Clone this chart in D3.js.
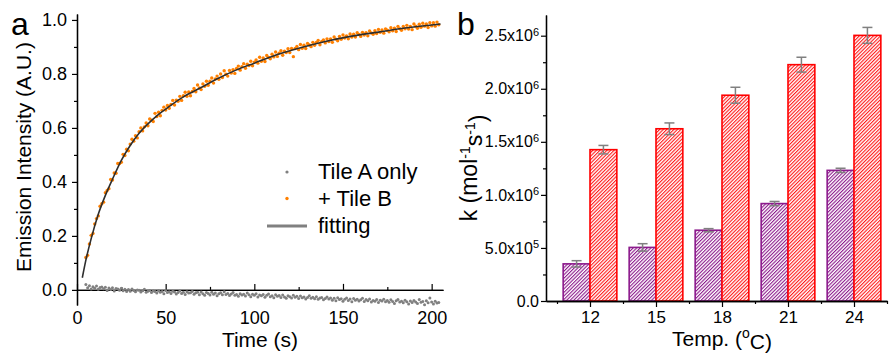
<!DOCTYPE html>
<html>
<head>
<meta charset="utf-8">
<script src="https://cdn.jsdelivr.net/npm/d3@7"></script>
<style>
  body { margin: 0; background: #fff; }
  text { font-family: Arial, "Liberation Sans", sans-serif; fill: #000; }
</style>
</head>
<body>
<svg id="chart" width="890" height="353"></svg>
<script>
// ---- panel a data ----
// sampling grid of the kinetics traces (s)
const tStart = 5, tStep = 1;
// "+ Tile B" emission, in thousandths of A.U.
const tileBmilli = [
  120,128,170,202,209,244,264,274,310,319, 325,360,368,375,409,407,433,432,468,468,
  473,502,498,521,515,540,558,551,571,563, 586,600,589,604,618,608,633,629,624,654,
  642,658,645,665,677,666,683,673,687,702, 685,703,699,717,702,719,732,717,733,719,
  735,746,734,759,748,742,763,754,773,758, 773,785,766,781,792,780,800,787,812,799,
  792,813,803,816,802,820,829,814,827,838, 821,836,831,847,830,843,852,840,862,847,
  859,846,868,861,856,873,863,881,865,877, 886,869,884,879,893,879,894,864,894,902,
  890,909,895,906,894,913,907,901,917,906, 917,924,908,920,926,915,930,920,930,917,
  937,929,923,939,928,944,933,941,930,948, 937,947,937,953,946,939,954,944,953,941,
  959,952,947,960,950,965,954,963,951,967, 962,956,971,960,969,957,976,968,962,976,
  967,980,966,976,964,985,977,969,984,973, 988,977,985,972,990,978,990,977,992,982
];
// "Tile A only" emission, in thousandths of A.U.
const tileAmilli = [
  20,8,15,3,12,6,14,2,9,11,  4,10,-2,7,1,8,-4,5,3,-1,
  6,-3,2,-6,1,-5,3,-2,-7,0,  -1,-8,-3,2,-9,-5,-2,-10,-4,-6,
  -12,-3,-9,-6,-14,-2,-10,-7,-13,-5,  -8,-15,-10,-4,-13,-9,-17,-7,-12,-11,
  -6,-16,-11,-9,-18,-8,-14,-20,-10,-13,  -19,-9,-16,-12,-22,-14,-11,-18,-7,-17,
  -13,-21,-15,-10,-20,-17,-24,-14,-19,-16,  -23,-12,-18,-25,-16,-20,-14,-26,-19,-22,
  -17,-27,-20,-15,-25,-22,-29,-18,-24,-21,  -28,-19,-26,-31,-22,-25,-30,-20,-27,-24,
  -32,-23,-29,-26,-34,-28,-22,-31,-27,-33,  -25,-35,-30,-28,-37,-32,-26,-34,-30,-38,
  -31,-40,-29,-36,-33,-42,-35,-30,-39,-34,  -44,-32,-38,-35,-41,-37,-31,-43,-36,-40,
  -34,-45,-39,-42,-36,-47,-38,-41,-35,-44,  -39,-46,-37,-43,-50,-40,-36,-45,-42,-48,
  -38,-44,-52,-41,-47,-39,-45,-50,-36,-46,  -43,-55,-40,-48,-30,-45,-52,-42,-49,-47
];
// fitting curve
const fitT = [3, 5, 8, 12, 16, 20, 25, 30, 35, 40, 45, 50, 60, 70, 80, 90, 100, 110, 125, 140, 155, 170, 185, 205];
const fitY = [0.045, 0.11, 0.19, 0.28, 0.35, 0.41, 0.48, 0.535, 0.58, 0.615, 0.645, 0.67, 0.715, 0.75, 0.785, 0.815, 0.84, 0.865, 0.895, 0.92, 0.94, 0.955, 0.97, 0.985];
const timeTicks = [0, 50, 100, 150, 200];
const timeMinor = [25, 75, 125, 175];
const intensityTicks = [0, 0.2, 0.4, 0.6, 0.8, 1.0];
const intensityMinor = [0.1, 0.3, 0.5, 0.7, 0.9];
const legendLabels = ["Tile A only", "+ Tile B", "fitting"];

// ---- panel b data ----
const temps = [12, 15, 18, 21, 24];
const tempMinor = [10.5, 13.5, 16.5, 19.5, 22.5, 25.5];
const kTileA = [3.5e5, 5.05e5, 6.67e5, 9.18e5, 1.231e6];
const kTileAErr = [3.0e4, 3.5e4, 1.5e4, 2.0e4, 2.0e4];
const kTileB = [1.426e6, 1.623e6, 1.939e6, 2.227e6, 2.503e6];
const kTileBErr = [4.0e4, 5.5e4, 7.5e4, 7.0e4, 7.5e4];
const kTicks = [0, 5e5, 1e6, 1.5e6, 2e6, 2.5e6];
const kMinor = [2.5e5, 7.5e5, 1.25e6, 1.75e6, 2.25e6];
const kTickLabels = [["0.0", ""], ["5.0x10", "5"], ["1.0x10", "6"], ["1.5x10", "6"], ["2.0x10", "6"], ["2.5x10", "6"]];

const FONT = 'Arial, "Liberation Sans", sans-serif';
const svg = d3.select("#chart");

function styleAxis(g, size) {
  g.attr("font-family", FONT).attr("font-size", size);
  g.selectAll("line").attr("stroke", "#000").attr("stroke-width", 1.2);
  g.selectAll("path.domain").attr("stroke", "#000").attr("stroke-width", 1.3);
  g.selectAll("text").attr("fill", "#000");
}

// =================== panel a ===================
const xa = d3.scaleLinear().domain([0, 206.4]).range([77, 443]);
const ya = d3.scaleLinear().domain([-0.056, 1.022]).range([305, 14]);
const times = d3.range(tileBmilli.length).map(i => tStart + i * tStep);

const ga = svg.append("g");

ga.append("g").attr("transform", `translate(77,0)`)
  .call(d3.axisLeft(ya).tickValues(intensityMinor).tickSize(3).tickSizeOuter(0).tickFormat(""))
  .call(g => styleAxis(g, 18));
ga.append("g").attr("transform", `translate(77,0)`)
  .call(d3.axisLeft(ya).tickValues(intensityTicks).tickSize(5).tickSizeOuter(0).tickPadding(5).tickFormat(d3.format(".1f")))
  .call(g => styleAxis(g, 18));

ga.append("g").attr("transform", `translate(0,${ya(0)})`)
  .call(d3.axisBottom(xa).tickValues(timeMinor).tickSize(-3).tickSizeOuter(0).tickFormat(""))
  .call(g => styleAxis(g, 18));
ga.append("g").attr("transform", `translate(0,${ya(0)})`)
  .call(d3.axisBottom(xa).tickValues(timeTicks).tickSize(-6).tickSizeOuter(0).tickPadding(21))
  .call(g => styleAxis(g, 18));

ga.append("g").selectAll("circle").data(tileAmilli).join("circle")
  .attr("cx", (d, i) => xa(times[i])).attr("cy", d => ya(d / 1000))
  .attr("r", 1.5).attr("fill", "#808080");
ga.append("g").selectAll("circle").data(tileBmilli).join("circle")
  .attr("cx", (d, i) => xa(times[i])).attr("cy", d => ya(d / 1000))
  .attr("r", 1.7).attr("fill", "#ff8000");

ga.append("path")
  .datum(fitT.map((t, i) => [t, fitY[i]]))
  .attr("d", d3.line().x(d => xa(d[0])).y(d => ya(d[1])).curve(d3.curveMonotoneX))
  .attr("fill", "none").attr("stroke", "#2e2e2e").attr("stroke-width", 1.6);

// legend
const lg = ga.append("g").attr("font-family", FONT).attr("font-size", 22);
lg.append("circle").attr("cx", 287).attr("cy", 172).attr("r", 1.6).attr("fill", "#808080");
lg.append("circle").attr("cx", 287).attr("cy", 198.5).attr("r", 1.7).attr("fill", "#ff8000");
lg.append("line").attr("x1", 267).attr("x2", 307).attr("y1", 226).attr("y2", 226)
  .attr("stroke", "#808080").attr("stroke-width", 3);
legendLabels.forEach((s, i) => {
  lg.append("text").attr("x", 318).attr("y", 179 + i * 27).text(s);
});

ga.append("text").attr("transform", "translate(31,157) rotate(-90)")
  .attr("text-anchor", "middle").attr("font-size", 21).text("Emission Intensity (A.U.)");
ga.append("text").attr("x", 260).attr("y", 346.5)
  .attr("text-anchor", "middle").attr("font-size", 21).text("Time (s)");
ga.append("text").attr("x", 11).attr("y", 35).attr("font-size", 32).text("a");

// =================== panel b ===================
const xb = d3.scaleLinear().domain([10, 25.5]).range([546, 887]);
const yb = d3.scaleLinear().domain([0, 2.695e6]).range([301, 15]);
const barW = 1.22;

const defs = svg.append("defs");
function hatch(id, color, bg) {
  const p = defs.append("pattern").attr("id", id)
    .attr("patternUnits", "userSpaceOnUse").attr("width", 2.5).attr("height", 10)
    .attr("patternTransform", "rotate(45)");
  p.append("rect").attr("width", 2.5).attr("height", 10).attr("fill", bg);
  p.append("rect").attr("width", 1.1).attr("height", 10).attr("fill", color);
}
hatch("hatchPurple", "#8c1a8c", "#fff");
hatch("hatchRed", "#ff1a1a", "#fff");

const gb = svg.append("g");

gb.append("g").attr("transform", `translate(546,0)`)
  .call(d3.axisLeft(yb).tickValues(kMinor).tickSize(3).tickSizeOuter(0).tickFormat(""))
  .call(g => styleAxis(g, 16));
gb.append("g").attr("transform", `translate(546,0)`)
  .call(d3.axisLeft(yb).tickValues(kTicks).tickSize(5).tickSizeOuter(0).tickPadding(2))
  .call(g => styleAxis(g, 16))
  .call(g => g.selectAll(".tick text").each(function (d, i) {
    const t = d3.select(this).text(null);
    t.append("tspan").text(kTickLabels[i][0]);
    if (kTickLabels[i][1]) t.append("tspan").attr("dy", "-0.5em").attr("font-size", 11).text(kTickLabels[i][1]);
  }));

const bars = gb.append("g");
bars.selectAll("rect.a").data(kTileA).join("rect").attr("class", "a")
  .attr("x", (d, i) => xb(temps[i] - barW)).attr("width", xb(barW) - xb(0))
  .attr("y", d => yb(d)).attr("height", d => yb(0) - yb(d))
  .attr("fill", "url(#hatchPurple)").attr("stroke", "#8c1a8c").attr("stroke-width", 1.6);
bars.selectAll("rect.b").data(kTileB).join("rect").attr("class", "b")
  .attr("x", (d, i) => xb(temps[i])).attr("width", xb(barW) - xb(0))
  .attr("y", d => yb(d)).attr("height", d => yb(0) - yb(d))
  .attr("fill", "url(#hatchRed)").attr("stroke", "#ff0000").attr("stroke-width", 1.6);

function errorBars(vals, errs, offset) {
  const g = gb.append("g").attr("stroke", "#808080").attr("stroke-width", 1.5);
  vals.forEach((v, i) => {
    const cx = xb(temps[i] + offset);
    g.append("line").attr("x1", cx).attr("x2", cx).attr("y1", yb(v - errs[i])).attr("y2", yb(v + errs[i]));
    [v - errs[i], v + errs[i]].forEach(e => {
      g.append("line").attr("x1", cx - 5).attr("x2", cx + 5).attr("y1", yb(e)).attr("y2", yb(e));
    });
  });
}
errorBars(kTileA, kTileAErr, -barW / 2);
errorBars(kTileB, kTileBErr, barW / 2);

gb.append("g").attr("transform", `translate(0,301)`)
  .call(d3.axisBottom(xb).tickValues(tempMinor).tickSize(3).tickSizeOuter(0).tickFormat(""))
  .call(g => styleAxis(g, 17));
gb.append("g").attr("transform", `translate(0,301)`)
  .call(d3.axisBottom(xb).tickValues(temps).tickSize(6).tickSizeOuter(0).tickPadding(4))
  .call(g => styleAxis(g, 17));

const ky = gb.append("text").attr("transform", "translate(477,168) rotate(-90)")
  .attr("text-anchor", "middle").attr("font-size", 23);
ky.append("tspan").text("k (mol");
ky.append("tspan").attr("dy", "-0.5em").attr("font-size", 14).text("-1");
ky.append("tspan").attr("dy", "0.5em").text("s");
ky.append("tspan").attr("dy", "-0.5em").attr("font-size", 14).text("-1");
ky.append("tspan").attr("dy", "0.5em").text(")");

const kx = gb.append("text").attr("x", 722).attr("y", 345.5)
  .attr("text-anchor", "middle").attr("font-size", 21);
kx.append("tspan").text("Temp. (");
kx.append("tspan").attr("dy", "-0.55em").attr("font-size", 14).text("o");
kx.append("tspan").attr("dy", "0.55em").text("C)");

gb.append("text").attr("x", 457).attr("y", 35).attr("font-size", 32).text("b");
</script>
</body>
</html>
